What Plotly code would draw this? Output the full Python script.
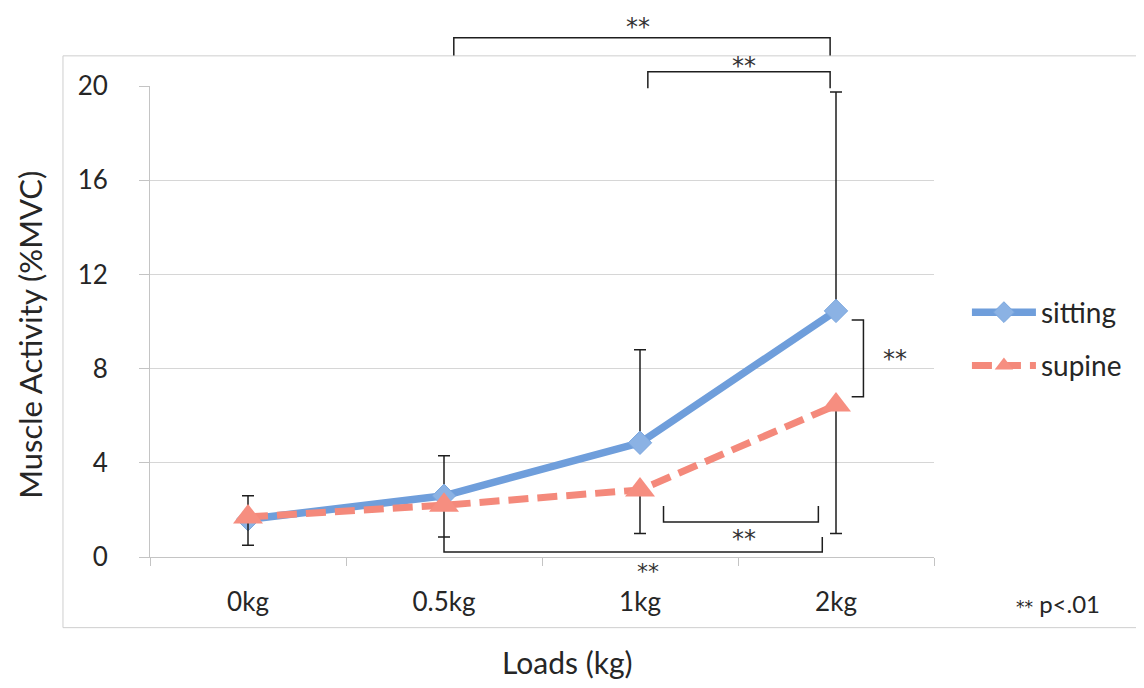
import plotly.graph_objects as go

# ---------------- data ----------------
loads = ["0kg", "0.5kg", "1kg", "2kg"]
sitting = [1.6, 2.6, 4.85, 10.45]
sitting_err_plus = [1.0, 1.7, 3.95, 9.3]
supine = [1.7, 2.2, 2.85, 6.45]
supine_err_minus = [1.2, 1.35, 1.85, 5.45]
y_ticks = [0, 4, 8, 12, 16, 20]

# significance brackets: (x0, x1, y_bar, y_end) in category-index / value units
h_brackets = [
    (1.05, 2.97, 22.05, 21.3),
    (2.04, 2.97, 20.6, 19.9),
    (2.12, 2.91, 1.49, 2.17),
    (1.00, 2.93, 0.21, 0.85),
]
# vertical bracket: (x_bar, x_end, y0, y1)
v_brackets = [(3.14, 3.08, 6.8, 10.06)]
# (x, y, font size, yshift)
sig_labels = [(1.99, 22.7, 24, -5), (2.53, 21.05, 24, -5), (3.30, 8.6, 24, -5),
              (2.53, 0.98, 24, -5), (2.04, -0.5, 22, -3)]

FONT = "Lato"
STAR_FONT = "DejaVu Sans"
TXT = "#262626"
XR = [-0.5, 3.5]
YR = [0, 20]


def xp(i):
    return (i - XR[0]) / (XR[1] - XR[0])


def yp(v):
    return (v - YR[0]) / (YR[1] - YR[0])


fig = go.Figure()
fig.add_trace(go.Scatter(
    x=loads, y=sitting, name="sitting", mode="lines+markers",
    line=dict(color="#6f9edb", width=7.5),
    marker=dict(symbol="diamond", size=18, color="#8bb2e4",
                line=dict(color="#7aa6de", width=1)),
    error_y=dict(type="data", symmetric=False, array=sitting_err_plus,
                 arrayminus=[0] * len(sitting), color="#1e1e1e",
                 thickness=1.5, width=6),
    legendgroup="a",
))
fig.add_trace(go.Scatter(
    x=loads, y=supine, name="supine", mode="lines+markers",
    line=dict(color="#f4897b", width=7, dash="20px,9px"),
    marker=dict(symbol="triangle-up", size=26, color="#f68e80",
                line=dict(color="#f68e80", width=0)),
    error_y=dict(type="data", symmetric=False, array=[0] * len(supine),
                 arrayminus=supine_err_minus, color="#1e1e1e",
                 thickness=1.5, width=6),
    legendgroup="b",
))

shapes = []
line_style = dict(color="#1e1e1e", width=1.5)
for x0, x1, yb, ye in h_brackets:
    shapes.append(dict(type="path", xref="paper", yref="paper",
                       path=f"M{xp(x0)},{yp(ye)} L{xp(x0)},{yp(yb)} L{xp(x1)},{yp(yb)} L{xp(x1)},{yp(ye)}",
                       line=line_style))
for xb, xe, y0, y1 in v_brackets:
    shapes.append(dict(type="path", xref="paper", yref="paper",
                       path=f"M{xp(xe)},{yp(y1)} L{xp(xb)},{yp(y1)} L{xp(xb)},{yp(y0)} L{xp(xe)},{yp(y0)}",
                       line=line_style))
# outer chart-area border
shapes.append(dict(type="rect", xref="paper", yref="paper",
                   x0=-0.111, x1=1.28, y0=-0.15, y1=1.064,
                   line=dict(color="#cfcfcf", width=1), layer="below"))

annotations = []
for x, y, fs, ys in sig_labels:
    annotations.append(dict(x=xp(x), y=yp(y), xref="paper", yref="paper",
                            xanchor="center", yanchor="middle", yshift=ys,
                            text="**", showarrow=False,
                            font=dict(family=STAR_FONT, size=fs, color="#333333")))
annotations.append(dict(x=-0.153, y=0.472, xref="paper", yref="paper",
                        xanchor="center", yanchor="middle",
                        text="Muscle Activity (%MVC)", textangle=-90, showarrow=False,
                        font=dict(family=FONT, size=31, color=TXT)))
annotations.append(dict(x=0.532, y=-0.223, xref="paper", yref="paper",
                        xanchor="center", yanchor="middle",
                        text="Loads (kg)", showarrow=False,
                        font=dict(family=FONT, size=30, color=TXT)))
annotations.append(dict(x=1.158, y=-0.098, xref="paper", yref="paper",
                        xanchor="center", yanchor="middle",
                        text=f"<span style='font-family:{STAR_FONT};font-size:17px'>**</span> p&lt;.01",
                        showarrow=False,
                        font=dict(family=FONT, size=24, color=TXT)))

# page body has an 8px default margin: offset margins so the plot area lands in place
fig.update_layout(
    width=1144, height=688,
    margin=dict(l=142, r=218, t=78, b=139),
    paper_bgcolor="white", plot_bgcolor="white",
    font=dict(family=FONT, color=TXT),
    shapes=shapes, annotations=annotations,
    showlegend=True,
    legend=dict(x=1.042, y=0.463, xanchor="left", yanchor="middle",
                font=dict(family=FONT, size=28, color=TXT),
                itemwidth=64, tracegroupgap=14, traceorder="grouped",
                bgcolor="rgba(0,0,0,0)"),
)
fig.update_xaxes(type="category", range=XR, showgrid=False, showline=True,
                 linecolor="#c4c4c4", linewidth=1, ticks="outside", ticklen=8,
                 tickcolor="#c4c4c4", tickson="boundaries",
                 tickfont=dict(family=FONT, size=26, color=TXT),
                 ticklabelstandoff=22, zeroline=False)
fig.update_yaxes(range=YR, tickvals=y_ticks, showgrid=True, gridcolor="#d6d6d6",
                 showline=True, linecolor="#c4c4c4", linewidth=1,
                 ticks="outside", ticklen=10, tickcolor="#c4c4c4",
                 tickfont=dict(family=FONT, size=26, color=TXT),
                 ticklabelstandoff=26, zeroline=False)

fig.write_html("out.html")
